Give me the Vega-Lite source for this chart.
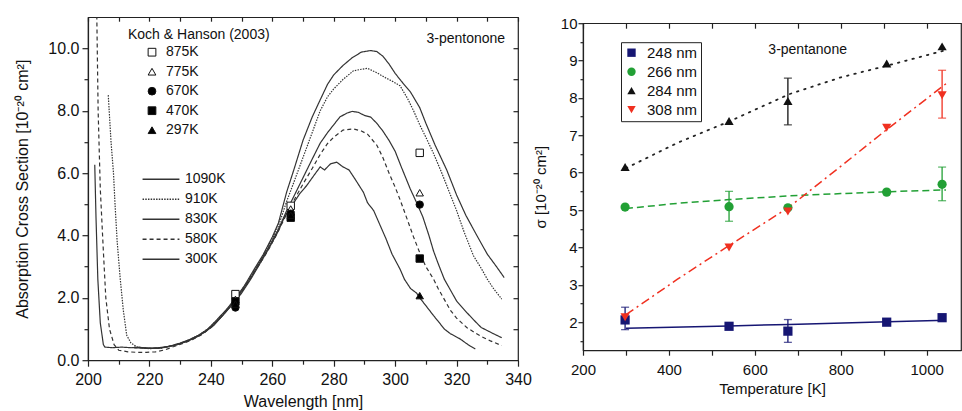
{
  "$schema": "https://vega.github.io/schema/vega-lite/v6.json",
  "padding": {"left": 14, "top": 15, "right": 0, "bottom": 0},
  "config": {
    "font": "Liberation Sans",
    "view": {"stroke": "#222", "strokeWidth": 1.2},
    "concat": {"spacing": 0},
    "axis": {"grid": false, "domainColor": "#222", "tickColor": "#222", "labelColor": "#111", "titleColor": "#111", "titleFontWeight": "normal", "labelOverlap": false, "labelFlush": false, "domainWidth": 1.2, "tickWidth": 1.2},
    "legend": {"labelColor": "#111", "titleColor": "#111", "padding": 0}
  },
  "center": true,
  "resolve": {
    "scale": {"x": "independent", "y": "independent", "color": "independent", "shape": "independent", "fill": "independent", "stroke": "independent", "strokeDash": "independent"},
    "legend": {"color": "independent", "shape": "independent", "fill": "independent", "stroke": "independent", "strokeDash": "independent"}
  },
  "datasets": {
    "curves": [
      {"c":"1090K","x":215,"y":0.42},{"c":"1090K","x":218,"y":0.4},{"c":"1090K","x":221,"y":0.38},{"c":"1090K","x":224,"y":0.4},{"c":"1090K","x":227,"y":0.46},{"c":"1090K","x":230,"y":0.55},{"c":"1090K","x":233,"y":0.66},{"c":"1090K","x":236,"y":0.8},{"c":"1090K","x":239,"y":1.0},{"c":"1090K","x":242,"y":1.3},{"c":"1090K","x":245,"y":1.62},{"c":"1090K","x":248,"y":1.98},{"c":"1090K","x":251,"y":2.4},{"c":"1090K","x":254,"y":2.9},{"c":"1090K","x":257,"y":3.38},{"c":"1090K","x":260,"y":3.95},{"c":"1090K","x":262,"y":4.4},{"c":"1090K","x":264.7,"y":5.4},{"c":"1090K","x":267,"y":6.1},{"c":"1090K","x":270,"y":7.05},{"c":"1090K","x":273,"y":7.8},{"c":"1090K","x":275.6,"y":8.35},{"c":"1090K","x":278,"y":8.85},{"c":"1090K","x":280,"y":9.15},{"c":"1090K","x":283,"y":9.45},{"c":"1090K","x":286,"y":9.7},{"c":"1090K","x":289,"y":9.88},{"c":"1090K","x":292,"y":9.93},{"c":"1090K","x":294,"y":9.9},{"c":"1090K","x":296,"y":9.75},{"c":"1090K","x":298,"y":9.5},{"c":"1090K","x":300,"y":9.2},{"c":"1090K","x":302,"y":8.95},{"c":"1090K","x":305,"y":8.6},{"c":"1090K","x":308,"y":8.1},{"c":"1090K","x":310,"y":7.6},{"c":"1090K","x":313,"y":6.9},{"c":"1090K","x":316.8,"y":6.1},{"c":"1090K","x":320,"y":5.3},{"c":"1090K","x":323,"y":4.65},{"c":"1090K","x":326.6,"y":4.0},{"c":"1090K","x":330,"y":3.4},{"c":"1090K","x":333,"y":3.0},{"c":"1090K","x":335.5,"y":2.65},
      {"c":"910K","x":206.6,"y":8.5},{"c":"910K","x":207.5,"y":7.0},{"c":"910K","x":208.3,"y":6.0},{"c":"910K","x":208.8,"y":5.0},{"c":"910K","x":209.5,"y":3.8},{"c":"910K","x":210.5,"y":2.6},{"c":"910K","x":211.5,"y":1.6},{"c":"910K","x":212.6,"y":0.8},{"c":"910K","x":214,"y":0.55},{"c":"910K","x":216,"y":0.42},{"c":"910K","x":220,"y":0.37},{"c":"910K","x":224,"y":0.39},{"c":"910K","x":227,"y":0.45},{"c":"910K","x":230,"y":0.54},{"c":"910K","x":233,"y":0.65},{"c":"910K","x":236,"y":0.8},{"c":"910K","x":239,"y":1.0},{"c":"910K","x":242,"y":1.28},{"c":"910K","x":245,"y":1.6},{"c":"910K","x":248,"y":1.95},{"c":"910K","x":251,"y":2.38},{"c":"910K","x":254,"y":2.85},{"c":"910K","x":257,"y":3.35},{"c":"910K","x":260,"y":3.9},{"c":"910K","x":262,"y":4.3},{"c":"910K","x":264.7,"y":5.1},{"c":"910K","x":267,"y":5.7},{"c":"910K","x":270,"y":6.5},{"c":"910K","x":273,"y":7.3},{"c":"910K","x":275.6,"y":8.0},{"c":"910K","x":278,"y":8.45},{"c":"910K","x":280,"y":8.7},{"c":"910K","x":283,"y":9.0},{"c":"910K","x":286.4,"y":9.28},{"c":"910K","x":289,"y":9.33},{"c":"910K","x":291,"y":9.36},{"c":"910K","x":294,"y":9.22},{"c":"910K","x":297,"y":9.05},{"c":"910K","x":299,"y":8.95},{"c":"910K","x":301.6,"y":8.8},{"c":"910K","x":304,"y":8.4},{"c":"910K","x":306,"y":8.0},{"c":"910K","x":308,"y":7.55},{"c":"910K","x":310,"y":7.15},{"c":"910K","x":312.4,"y":6.65},{"c":"910K","x":315,"y":6.05},{"c":"910K","x":318,"y":5.3},{"c":"910K","x":320,"y":4.8},{"c":"910K","x":322.5,"y":4.1},{"c":"910K","x":325.5,"y":3.35},{"c":"910K","x":328,"y":2.95},{"c":"910K","x":330,"y":2.6},{"c":"910K","x":332,"y":2.3},{"c":"910K","x":334.7,"y":1.96},
      {"c":"830K","x":215,"y":0.4},{"c":"830K","x":219,"y":0.38},{"c":"830K","x":223,"y":0.4},{"c":"830K","x":226,"y":0.44},{"c":"830K","x":229,"y":0.5},{"c":"830K","x":232,"y":0.6},{"c":"830K","x":235,"y":0.72},{"c":"830K","x":238,"y":0.9},{"c":"830K","x":241,"y":1.15},{"c":"830K","x":244,"y":1.45},{"c":"830K","x":247,"y":1.8},{"c":"830K","x":250,"y":2.2},{"c":"830K","x":253,"y":2.65},{"c":"830K","x":256,"y":3.15},{"c":"830K","x":259,"y":3.65},{"c":"830K","x":262,"y":4.2},{"c":"830K","x":264.7,"y":4.8},{"c":"830K","x":267,"y":5.25},{"c":"830K","x":270,"y":5.85},{"c":"830K","x":273,"y":6.45},{"c":"830K","x":275.6,"y":6.96},{"c":"830K","x":278,"y":7.3},{"c":"830K","x":280,"y":7.55},{"c":"830K","x":282,"y":7.8},{"c":"830K","x":284.2,"y":7.92},{"c":"830K","x":286,"y":7.98},{"c":"830K","x":288,"y":7.95},{"c":"830K","x":290,"y":7.85},{"c":"830K","x":292,"y":7.8},{"c":"830K","x":294,"y":7.6},{"c":"830K","x":296,"y":7.35},{"c":"830K","x":298,"y":7.05},{"c":"830K","x":300,"y":6.7},{"c":"830K","x":302,"y":6.2},{"c":"830K","x":304.9,"y":5.5},{"c":"830K","x":307,"y":5.05},{"c":"830K","x":309,"y":4.6},{"c":"830K","x":311,"y":4.0},{"c":"830K","x":312.5,"y":3.5},{"c":"830K","x":314,"y":3.1},{"c":"830K","x":316,"y":2.6},{"c":"830K","x":318,"y":2.25},{"c":"830K","x":320,"y":1.9},{"c":"830K","x":323.3,"y":1.53},{"c":"830K","x":326,"y":1.25},{"c":"830K","x":328,"y":1.05},{"c":"830K","x":330,"y":0.95},{"c":"830K","x":332,"y":0.85},{"c":"830K","x":334.7,"y":0.72},
      {"c":"580K","x":202.8,"y":11.5},{"c":"580K","x":203.3,"y":8.0},{"c":"580K","x":204,"y":5.5},{"c":"580K","x":205,"y":3.5},{"c":"580K","x":205.8,"y":2.0},{"c":"580K","x":207,"y":1.0},{"c":"580K","x":208.5,"y":0.5},{"c":"580K","x":210,"y":0.32},{"c":"580K","x":213,"y":0.27},{"c":"580K","x":216,"y":0.25},{"c":"580K","x":219,"y":0.25},{"c":"580K","x":222,"y":0.27},{"c":"580K","x":225,"y":0.33},{"c":"580K","x":228,"y":0.44},{"c":"580K","x":231,"y":0.54},{"c":"580K","x":234,"y":0.66},{"c":"580K","x":237,"y":0.82},{"c":"580K","x":240,"y":1.04},{"c":"580K","x":243,"y":1.35},{"c":"580K","x":246,"y":1.68},{"c":"580K","x":249,"y":2.05},{"c":"580K","x":252,"y":2.48},{"c":"580K","x":255,"y":2.95},{"c":"580K","x":258,"y":3.42},{"c":"580K","x":261,"y":3.95},{"c":"580K","x":264,"y":4.55},{"c":"580K","x":267,"y":5.12},{"c":"580K","x":270,"y":5.65},{"c":"580K","x":273,"y":6.15},{"c":"580K","x":275.6,"y":6.6},{"c":"580K","x":278,"y":6.95},{"c":"580K","x":280,"y":7.15},{"c":"580K","x":283,"y":7.38},{"c":"580K","x":286.4,"y":7.42},{"c":"580K","x":289,"y":7.35},{"c":"580K","x":291,"y":7.25},{"c":"580K","x":294,"y":6.9},{"c":"580K","x":296,"y":6.5},{"c":"580K","x":298,"y":6.0},{"c":"580K","x":300,"y":5.55},{"c":"580K","x":301.6,"y":5.15},{"c":"580K","x":304,"y":4.5},{"c":"580K","x":306,"y":3.95},{"c":"580K","x":308,"y":3.45},{"c":"580K","x":310,"y":3.0},{"c":"580K","x":312.5,"y":2.6},{"c":"580K","x":314,"y":2.3},{"c":"580K","x":316,"y":1.95},{"c":"580K","x":318,"y":1.6},{"c":"580K","x":320,"y":1.35},{"c":"580K","x":323.3,"y":1.05},{"c":"580K","x":326,"y":0.88},{"c":"580K","x":328,"y":0.76},{"c":"580K","x":331,"y":0.62},{"c":"580K","x":334.7,"y":0.47},
      {"c":"300K","x":202.2,"y":6.27},{"c":"300K","x":202.6,"y":4.6},{"c":"300K","x":203.2,"y":2.6},{"c":"300K","x":204,"y":1.2},{"c":"300K","x":205,"y":0.5},{"c":"300K","x":205.5,"y":0.42},{"c":"300K","x":208,"y":0.4},{"c":"300K","x":211,"y":0.42},{"c":"300K","x":214,"y":0.4},{"c":"300K","x":217,"y":0.41},{"c":"300K","x":220,"y":0.38},{"c":"300K","x":223,"y":0.38},{"c":"300K","x":226,"y":0.43},{"c":"300K","x":229,"y":0.5},{"c":"300K","x":232,"y":0.6},{"c":"300K","x":235,"y":0.74},{"c":"300K","x":238,"y":0.9},{"c":"300K","x":241,"y":1.12},{"c":"300K","x":244,"y":1.45},{"c":"300K","x":247,"y":1.78},{"c":"300K","x":250,"y":2.15},{"c":"300K","x":253,"y":2.6},{"c":"300K","x":256,"y":3.1},{"c":"300K","x":259,"y":3.6},{"c":"300K","x":262,"y":4.15},{"c":"300K","x":264,"y":4.6},{"c":"300K","x":267,"y":5.05},{"c":"300K","x":269,"y":5.35},{"c":"300K","x":271.2,"y":5.6},{"c":"300K","x":273,"y":5.85},{"c":"300K","x":275.6,"y":6.2},{"c":"300K","x":277,"y":6.1},{"c":"300K","x":279,"y":6.3},{"c":"300K","x":281,"y":6.35},{"c":"300K","x":283,"y":6.2},{"c":"300K","x":285,"y":6.1},{"c":"300K","x":287,"y":5.8},{"c":"300K","x":289.7,"y":5.38},{"c":"300K","x":291,"y":5.05},{"c":"300K","x":293,"y":4.8},{"c":"300K","x":295,"y":4.35},{"c":"300K","x":297,"y":3.9},{"c":"300K","x":299,"y":3.4},{"c":"300K","x":301.6,"y":2.92},{"c":"300K","x":303,"y":2.6},{"c":"300K","x":305,"y":2.3},{"c":"300K","x":307,"y":2.15},{"c":"300K","x":308,"y":2.0},{"c":"300K","x":310,"y":1.75},{"c":"300K","x":312.5,"y":1.43},{"c":"300K","x":314,"y":1.25},{"c":"300K","x":316,"y":1.0},{"c":"300K","x":318,"y":0.85},{"c":"300K","x":321.2,"y":0.68},{"c":"300K","x":323,"y":0.55},{"c":"300K","x":324.5,"y":0.45},{"c":"300K","x":326.1,"y":0.36}
    ],
    "kh": [
      {"t":"875K","x":248,"y":2.12},{"t":"875K","x":266,"y":4.95},{"t":"875K","x":308,"y":6.65},
      {"t":"775K","x":248,"y":1.95},{"t":"775K","x":266,"y":4.85},{"t":"775K","x":308,"y":5.37},
      {"t":"670K","x":248,"y":1.69},{"t":"670K","x":266,"y":4.7},{"t":"670K","x":308,"y":4.99},
      {"t":"470K","x":248,"y":1.88},{"t":"470K","x":266,"y":4.57},{"t":"470K","x":308,"y":3.26},
      {"t":"297K","x":248,"y":1.8},{"t":"297K","x":266,"y":4.65},{"t":"297K","x":308,"y":2.07}
    ],
    "pts": [
      {"wl":"248 nm","T":298,"s":2.06},{"wl":"248 nm","T":540,"s":1.89},{"wl":"248 nm","T":677,"s":1.76},{"wl":"248 nm","T":907,"s":2.0},{"wl":"248 nm","T":1036,"s":2.12},
      {"wl":"266 nm","T":298,"s":5.08},{"wl":"266 nm","T":540,"s":5.09},{"wl":"266 nm","T":677,"s":5.06},{"wl":"266 nm","T":907,"s":5.48},{"wl":"266 nm","T":1036,"s":5.69},
      {"wl":"284 nm","T":298,"s":6.15},{"wl":"284 nm","T":540,"s":7.38},{"wl":"284 nm","T":677,"s":7.92},{"wl":"284 nm","T":907,"s":8.92},{"wl":"284 nm","T":1036,"s":9.38},
      {"wl":"308 nm","T":298,"s":2.13},{"wl":"308 nm","T":540,"s":4.0},{"wl":"308 nm","T":677,"s":4.96},{"wl":"308 nm","T":907,"s":7.2},{"wl":"308 nm","T":1036,"s":8.07}
    ],
    "fit": [
      {"wl":"248 nm","T":300,"s":1.84},{"wl":"248 nm","T":540,"s":1.9},{"wl":"248 nm","T":680,"s":1.94},{"wl":"248 nm","T":910,"s":2.01},{"wl":"248 nm","T":1045,"s":2.05},
      {"wl":"266 nm","T":300,"s":5.04},{"wl":"266 nm","T":420,"s":5.18},{"wl":"266 nm","T":540,"s":5.28},{"wl":"266 nm","T":680,"s":5.38},{"wl":"266 nm","T":800,"s":5.44},{"wl":"266 nm","T":910,"s":5.49},{"wl":"266 nm","T":1045,"s":5.54},
      {"wl":"284 nm","T":300,"s":6.12},{"wl":"284 nm","T":420,"s":6.8},{"wl":"284 nm","T":540,"s":7.37},{"wl":"284 nm","T":680,"s":8.1},{"wl":"284 nm","T":800,"s":8.55},{"wl":"284 nm","T":910,"s":8.87},{"wl":"284 nm","T":1045,"s":9.28},
      {"wl":"308 nm","T":300,"s":2.2},{"wl":"308 nm","T":420,"s":3.15},{"wl":"308 nm","T":540,"s":4.05},{"wl":"308 nm","T":680,"s":5.08},{"wl":"308 nm","T":800,"s":6.17},{"wl":"308 nm","T":910,"s":7.18},{"wl":"308 nm","T":1045,"s":8.38}
    ],
    "err": [
      {"wl":"248 nm","T":298,"lo":1.8,"hi":2.4},{"wl":"248 nm","T":677,"lo":1.46,"hi":2.07},
      {"wl":"266 nm","T":540,"lo":4.7,"hi":5.5},{"wl":"266 nm","T":1036,"lo":5.25,"hi":6.15},
      {"wl":"284 nm","T":677,"lo":7.28,"hi":8.53},
      {"wl":"308 nm","T":1036,"lo":7.46,"hi":8.74}
    ]
  },
  "hconcat": [
    {
      "width": 430,
      "height": 343,
      "resolve": {"axis": {"x": "independent", "y": "independent"}},
      "layer": [
        {
          "data": {"name": "curves"},
          "mark": {"type": "line", "clip": true, "strokeWidth": 1.2, "color": "#333"},
          "encoding": {
            "x": {"field": "x", "type": "quantitative", "scale": {"domain": [200, 340], "nice": false, "zero": false},
              "axis": {"orient": "bottom", "title": "Wavelength [nm]", "values": [200,210,220,230,240,250,260,270,280,290,300,310,320,330,340],
                "labelExpr": "datum.value % 20 == 0 ? datum.label : ''",
                "tickSize": {"condition": {"test": "datum.value % 20 == 0", "value": 6}, "value": 4},
                "labelFontSize": 16, "titleFontSize": 16, "labelPadding": 5, "titlePadding": 6}},
            "y": {"field": "y", "type": "quantitative", "scale": {"domain": [0, 11], "nice": false},
              "axis": {"orient": "left", "title": "Absorption Cross Section [10⁻²⁰ cm²]", "values": [0,1,2,3,4,5,6,7,8,9,10],
                "labelExpr": "datum.value % 2 == 0 ? format(datum.value, '.1f') : ''",
                "tickSize": {"condition": {"test": "datum.value % 2 == 0", "value": 6}, "value": 4},
                "labelFontSize": 16, "titleFontSize": 16, "labelPadding": 3, "titlePadding": 17}},
            "strokeDash": {"field": "c", "type": "nominal",
              "scale": {"domain": ["1090K","910K","830K","580K","300K"], "range": [[1,0],[1.5,1.2],[1,0],[4,3],[1,0]]},
              "legend": {"orient": "none", "legendX": 63, "legendY": 152, "title": null, "symbolType": "M-2,0H2", "symbolSize": 340, "symbolOffset": 0,
                "symbolStrokeWidth": 1.4, "symbolStrokeColor": "#333", "labelFontSize": 14, "rowPadding": 3, "labelOffset": 14}}
          }
        },
        {
          "data": {"name": "kh"},
          "mark": {"type": "point", "strokeWidth": 1, "size": 55, "opacity": 1},
          "encoding": {
            "x": {"field": "x", "type": "quantitative",
              "axis": {"orient": "top", "title": null, "labels": false, "domain": false, "ticks": true, "values": [200,210,220,230,240,250,260,270,280,290,300,310,320,330,340], "tickSize": -4}},
            "y": {"field": "y", "type": "quantitative",
              "axis": {"orient": "right", "title": null, "labels": false, "domain": false, "ticks": true, "values": [1,2,3,4,5,6,7,8,9,10], "tickSize": -5}},
            "shape": {"field": "t", "type": "nominal",
              "scale": {"domain": ["875K","775K","670K","470K","297K"], "range": ["square","triangle-up","circle","square","triangle-up"]},
              "legend": {"orient": "none", "legendX": 40, "legendY": 11, "title": "Koch & Hanson (2003)", "titleFontSize": 14, "titleFontWeight": "normal",
                "labelFontSize": 14, "symbolOffset": 17, "labelOffset": 7, "rowPadding": 5.5, "titlePadding": 3, "symbolStrokeWidth": 1, "symbolSize": 60}},
            "fill": {"field": "t", "type": "nominal",
              "scale": {"domain": ["875K","775K","670K","470K","297K"], "range": ["white","white","black","black","black"]},
              "legend": {"orient": "none", "legendX": 40, "legendY": 11, "title": "Koch & Hanson (2003)", "titleFontSize": 14, "titleFontWeight": "normal",
                "labelFontSize": 14, "symbolOffset": 17, "labelOffset": 7, "rowPadding": 5.5, "titlePadding": 3, "symbolStrokeWidth": 1, "symbolSize": 60}},
            "stroke": {"field": "t", "type": "nominal",
              "scale": {"domain": ["875K","775K","670K","470K","297K"], "range": ["#111111","#111111","#111111","#111111","#111111"]},
              "legend": {"orient": "none", "legendX": 40, "legendY": 11, "title": "Koch & Hanson (2003)", "titleFontSize": 14, "titleFontWeight": "normal",
                "labelFontSize": 14, "symbolOffset": 17, "labelOffset": 7, "rowPadding": 5.5, "titlePadding": 3, "symbolStrokeWidth": 1, "symbolSize": 60}}
          }
        },
        {
          "data": {"values": [{"x": 323, "y": 10.3, "t": "3-pentonone"}]},
          "mark": {"type": "text", "fontSize": 14, "color": "#111"},
          "encoding": {
            "x": {"field": "x", "type": "quantitative", "axis": null},
            "y": {"field": "y", "type": "quantitative", "axis": null},
            "text": {"field": "t"}
          }
        }
      ]
    },
    {
      "width": 378,
      "height": 327,
      "resolve": {"axis": {"x": "independent", "y": "independent"}},
      "layer": [
        {
          "data": {"name": "fit"},
          "transform": [{"filter": "datum.wl == '248 nm'"}],
          "mark": {"type": "line", "color": "#161673", "strokeWidth": 1.5},
          "encoding": {
            "x": {"field": "T", "type": "quantitative", "scale": {"domain": [200, 1080], "nice": false, "zero": false},
              "axis": {"orient": "bottom", "title": ["Temperature [K]", ""], "titleLineHeight": 7, "values": [200,300,400,500,600,700,800,900,1000],
                "labelExpr": "datum.value % 200 == 0 ? datum.label : ''", "format": "d",
                "tickSize": 5, "labelFontSize": 15, "titleFontSize": 15, "labelPadding": 7, "titlePadding": 4}},
            "y": {"field": "s", "type": "quantitative", "scale": {"domain": [1.25, 10], "nice": false, "zero": false},
              "axis": {"orient": "left", "title": "σ [10⁻²⁰ cm²]", "values": [1.5,2,2.5,3,3.5,4,4.5,5,5.5,6,6.5,7,7.5,8,8.5,9,9.5,10],
                "labelExpr": "datum.value % 1 == 0 ? format(datum.value, 'd') : ''",
                "tickSize": {"condition": {"test": "datum.value % 1 == 0", "value": 5}, "value": 3},
                "labelFontSize": 15, "titleFontSize": 15, "labelPadding": 1, "titlePadding": 12}}
          }
        },
        {
          "data": {"name": "fit"},
          "transform": [{"filter": "datum.wl == '266 nm'"}],
          "mark": {"type": "line", "color": "#22a035", "strokeWidth": 1.5, "strokeDash": [7, 4]},
          "encoding": {
            "x": {"field": "T", "type": "quantitative",
              "axis": {"orient": "top", "title": null, "labels": false, "domain": false, "ticks": true, "values": [200,300,400,500,600,700,800,900,1000], "tickSize": -5}},
            "y": {"field": "s", "type": "quantitative", "axis": null}
          }
        },
        {
          "data": {"name": "fit"},
          "transform": [{"filter": "datum.wl == '284 nm'"}],
          "mark": {"type": "line", "color": "#222", "strokeWidth": 1.8, "strokeDash": [1.5, 6], "strokeCap": "round"},
          "encoding": {
            "x": {"field": "T", "type": "quantitative", "axis": null},
            "y": {"field": "s", "type": "quantitative", "axis": null}
          }
        },
        {
          "data": {"name": "fit"},
          "transform": [{"filter": "datum.wl == '308 nm'"}],
          "mark": {"type": "line", "color": "#f03020", "strokeWidth": 1.5, "strokeDash": [9, 4, 2, 4]},
          "encoding": {
            "x": {"field": "T", "type": "quantitative", "axis": null},
            "y": {"field": "s", "type": "quantitative", "axis": null}
          }
        },
        {
          "data": {"name": "err"},
          "transform": [{"filter": "datum.wl == '248 nm'"}],
          "mark": {"type": "errorbar", "ticks": {"size": 8}, "thickness": 1.3, "color": "#161673"},
          "encoding": {
            "x": {"field": "T", "type": "quantitative", "axis": null},
            "y": {"field": "lo", "type": "quantitative", "axis": null},
            "y2": {"field": "hi"}
          }
        },
        {
          "data": {"name": "err"},
          "transform": [{"filter": "datum.wl == '266 nm'"}],
          "mark": {"type": "errorbar", "ticks": {"size": 8}, "thickness": 1.3, "color": "#22a035"},
          "encoding": {
            "x": {"field": "T", "type": "quantitative", "axis": null},
            "y": {"field": "lo", "type": "quantitative", "axis": null},
            "y2": {"field": "hi"}
          }
        },
        {
          "data": {"name": "err"},
          "transform": [{"filter": "datum.wl == '284 nm'"}],
          "mark": {"type": "errorbar", "ticks": {"size": 8}, "thickness": 1.3, "color": "#111111"},
          "encoding": {
            "x": {"field": "T", "type": "quantitative", "axis": null},
            "y": {"field": "lo", "type": "quantitative", "axis": null},
            "y2": {"field": "hi"}
          }
        },
        {
          "data": {"name": "err"},
          "transform": [{"filter": "datum.wl == '308 nm'"}],
          "mark": {"type": "errorbar", "ticks": {"size": 8}, "thickness": 1.3, "color": "#f03020"},
          "encoding": {
            "x": {"field": "T", "type": "quantitative", "axis": null},
            "y": {"field": "lo", "type": "quantitative", "axis": null},
            "y2": {"field": "hi"}
          }
        },
        {
          "data": {"name": "pts"},
          "mark": {"type": "point", "filled": true, "size": 85, "opacity": 1},
          "encoding": {
            "x": {"field": "T", "type": "quantitative", "axis": null},
            "y": {"field": "s", "type": "quantitative", "axis": null},
            "color": {"field": "wl", "type": "nominal",
              "scale": {"domain": ["248 nm","266 nm","284 nm","308 nm"], "range": ["#161673","#22a035","#111111","#f03020"]},
              "legend": {"orient": "none", "legendX": 38, "legendY": 19, "title": null, "strokeColor": "#222", "padding": 3,
                "labelFontSize": 15, "rowPadding": 3, "symbolSize": 70, "labelOffset": 8}},
            "shape": {"field": "wl", "type": "nominal",
              "scale": {"domain": ["248 nm","266 nm","284 nm","308 nm"], "range": ["square","circle","triangle-up","triangle-down"]},
              "legend": {"orient": "none", "legendX": 38, "legendY": 19, "title": null, "strokeColor": "#222", "padding": 3,
                "labelFontSize": 15, "rowPadding": 3, "symbolSize": 70, "labelOffset": 8}}
          }
        },
        {
          "data": {"values": [{"T": 723, "s": 9.28, "t": "3-pentanone"}]},
          "mark": {"type": "text", "fontSize": 14, "color": "#111"},
          "encoding": {
            "x": {"field": "T", "type": "quantitative", "axis": null},
            "y": {"field": "s", "type": "quantitative", "axis": null},
            "text": {"field": "t"}
          }
        }
      ]
    }
  ]
}
